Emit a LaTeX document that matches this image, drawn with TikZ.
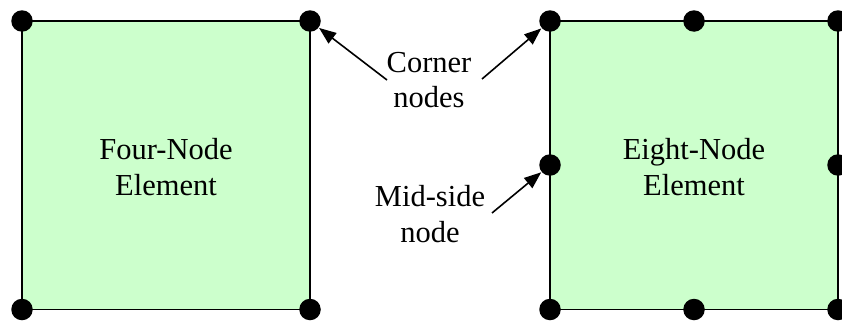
\documentclass[tikz,border=0pt]{standalone}
\usepackage{fontspec}
\setmainfont{Liberation Serif}
\usetikzlibrary{arrows.meta}
\definecolor{elemfill}{HTML}{CCFFCC}
\tikzset{
  elem/.style={draw=black, line width=1.8pt, fill=elemfill},
  dot/.style={circle, fill=black, inner sep=0pt, minimum size=21.5pt},
  lbl/.style={align=center, font=\fontsize{30.5}{35.5}\selectfont, inner sep=0pt},
  pointer/.style={line width=1.6pt, -{Triangle[length=17pt,width=13pt]}, shorten >=0.5pt}
}
\begin{document}
\begin{tikzpicture}[x=1pt,y=-1pt]
\useasboundingbox (0,0) rectangle (842,324);
% elements
\draw[elem] (22,21) rectangle (310,309.5);
\draw[elem] (550,21) rectangle (838,309.5);
% four-node corners
\node[dot] (a1) at (22,21) {};
\node[dot] (a2) at (310,21) {};
\node[dot] (a3) at (310,309.5) {};
\node[dot] (a4) at (22,309.5) {};
% eight-node
\node[dot] (b1) at (550,21) {};
\node[dot] (b2) at (694,21) {};
\node[dot] (b3) at (838,21) {};
\node[dot] (b4) at (838,165) {};
\node[dot] (b5) at (838,309.5) {};
\node[dot] (b6) at (694,309.5) {};
\node[dot] (b7) at (550,309.5) {};
\node[dot] (b8) at (550,165) {};
% labels
\node[lbl] (four) at (166,167) {Four-Node\\Element};
\node[lbl] (eight) at (694,167) {Eight-Node\\Element};
\node[lbl] (corner) at (429,80) {Corner\\nodes};
\node[lbl] (mid) at (430,214) {Mid-side\\node};
% arrow start points
\coordinate (c1) at (387,80);
\coordinate (c2) at (482,79);
\coordinate (m1) at (492,213);
\draw[pointer] (c1) -- (a2);
\draw[pointer] (c2) -- (b1);
\draw[pointer] (m1) -- (b8);
\end{tikzpicture}
\end{document}
